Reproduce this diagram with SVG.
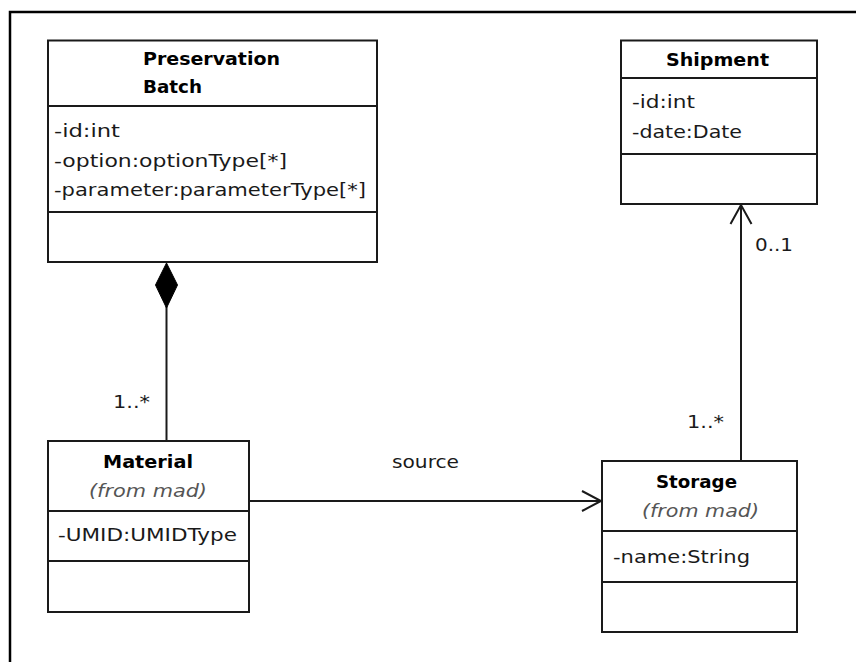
<svg xmlns="http://www.w3.org/2000/svg" width="856" height="662" viewBox="0 0 856 662">
<style>
.box{fill:#fff;stroke:#1a1a1a;stroke-width:2}
.sep{stroke:#1a1a1a;stroke-width:2}
.conn{fill:none;stroke:#1a1a1a;stroke-width:2}
text{font-family:"DejaVu Sans","Liberation Sans",sans-serif;font-size:18px;fill:#1a1a1a}
.t{font-weight:bold;fill:#000}
.f{font-style:italic;fill:#555}
</style>
<rect width="856" height="662" fill="#fff"/>
<path d="M10 662 V12 H856" fill="none" stroke="#000" stroke-width="2.5"/>
<g id="preservation-batch">
<rect class="box" x="48" y="40.5" width="329" height="221.5"/>
<line class="sep" x1="48" y1="106" x2="377" y2="106"/>
<line class="sep" x1="48" y1="212" x2="377" y2="212"/>
<text class="t" x="143" y="65" textLength="137" lengthAdjust="spacingAndGlyphs">Preservation</text>
<text class="t" x="143" y="93" textLength="59" lengthAdjust="spacingAndGlyphs">Batch</text>
<text x="54" y="137" textLength="66" lengthAdjust="spacingAndGlyphs">-id:int</text>
<text x="54" y="167" textLength="233" lengthAdjust="spacingAndGlyphs">-option:optionType[*]</text>
<text x="54" y="196" textLength="312" lengthAdjust="spacingAndGlyphs">-parameter:parameterType[*]</text>
</g>
<g id="shipment">
<rect class="box" x="621" y="40.5" width="196" height="163.5"/>
<line class="sep" x1="621" y1="78" x2="817" y2="78"/>
<line class="sep" x1="621" y1="154" x2="817" y2="154"/>
<text class="t" x="666" y="66" textLength="103" lengthAdjust="spacingAndGlyphs">Shipment</text>
<text x="632" y="108" textLength="63" lengthAdjust="spacingAndGlyphs">-id:int</text>
<text x="632" y="138" textLength="110" lengthAdjust="spacingAndGlyphs">-date:Date</text>
</g>
<g id="material">
<rect class="box" x="48" y="441" width="201" height="171"/>
<line class="sep" x1="48" y1="511" x2="249" y2="511"/>
<line class="sep" x1="48" y1="561" x2="249" y2="561"/>
<text class="t" x="103" y="468" textLength="90" lengthAdjust="spacingAndGlyphs">Material</text>
<text class="f" x="89" y="497" textLength="118" lengthAdjust="spacingAndGlyphs">(from mad)</text>
<text x="58" y="541" textLength="179" lengthAdjust="spacingAndGlyphs">-UMID:UMIDType</text>
</g>
<g id="storage">
<rect class="box" x="602" y="461" width="195" height="171"/>
<line class="sep" x1="602" y1="531" x2="797" y2="531"/>
<line class="sep" x1="602" y1="582" x2="797" y2="582"/>
<text class="t" x="656" y="488" textLength="81" lengthAdjust="spacingAndGlyphs">Storage</text>
<text class="f" x="642" y="517" textLength="117" lengthAdjust="spacingAndGlyphs">(from mad)</text>
<text x="613" y="563" textLength="137" lengthAdjust="spacingAndGlyphs">-name:String</text>
</g>
<g id="connectors">
<line class="conn" x1="166.5" y1="306" x2="166.5" y2="441"/>
<polygon points="166.5,263 177.5,285 166.5,308 155.5,285" fill="#000" stroke="#000" stroke-width="1"/>
<line class="conn" x1="249" y1="501" x2="601" y2="501"/>
<polyline class="conn" points="582,491 601,501 582,511"/>
<line class="conn" x1="741" y1="461" x2="741" y2="205"/>
<polyline class="conn" points="730.5,224 741,205 751.5,224"/>
<text x="113" y="408" textLength="37" lengthAdjust="spacingAndGlyphs">1..*</text>
<text x="392" y="468" textLength="67" lengthAdjust="spacingAndGlyphs">source</text>
<text x="687" y="428" textLength="37" lengthAdjust="spacingAndGlyphs">1..*</text>
<text x="755" y="251" textLength="38" lengthAdjust="spacingAndGlyphs">0..1</text>
</g>
</svg>
